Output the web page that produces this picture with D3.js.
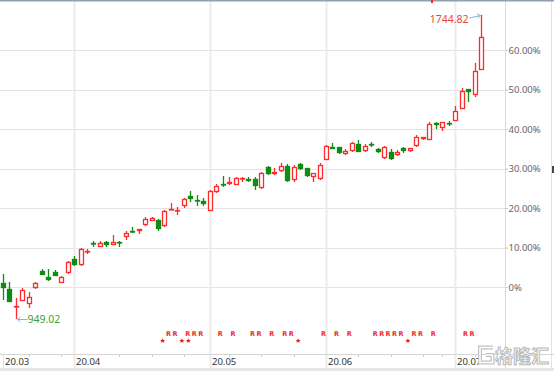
<!DOCTYPE html>
<html>
<head>
<meta charset="utf-8">
<script src="https://cdn.jsdelivr.net/npm/d3@7"></script>
<style>
body { margin: 0; background: #fff; }
svg { display: block; }
</style>
</head>
<body>
<div id="chart"></div>
<script>
// trading days shown on the chart
const dates = [
  "2020-03-17","2020-03-18","2020-03-19","2020-03-20","2020-03-23","2020-03-24","2020-03-25","2020-03-26","2020-03-27","2020-03-30","2020-03-31",
  "2020-04-01","2020-04-02","2020-04-03","2020-04-07","2020-04-08","2020-04-09","2020-04-10","2020-04-13","2020-04-14","2020-04-15","2020-04-16","2020-04-17","2020-04-20","2020-04-21","2020-04-22","2020-04-23","2020-04-24","2020-04-27","2020-04-28","2020-04-29","2020-04-30",
  "2020-05-06","2020-05-07","2020-05-08","2020-05-11","2020-05-12","2020-05-13","2020-05-14","2020-05-15","2020-05-18","2020-05-19","2020-05-20","2020-05-21","2020-05-22","2020-05-25","2020-05-26","2020-05-27","2020-05-28","2020-05-29",
  "2020-06-01","2020-06-02","2020-06-03","2020-06-04","2020-06-05","2020-06-08","2020-06-09","2020-06-10","2020-06-11","2020-06-12","2020-06-15","2020-06-16","2020-06-17","2020-06-18","2020-06-19","2020-06-22","2020-06-23","2020-06-24","2020-06-29","2020-06-30",
  "2020-07-01","2020-07-02","2020-07-03","2020-07-06","2020-07-07"
];
const openPrices = [
  1044,1028,981,997,988,1030,1076,1060,1073,1045,1069,
  1105,1090,1124,1149,1138,1151,1143,1151,1162,1179,1180,1195,1206,1208,1192,1236,1233,1243,1271,1261,1257,
  1234,1282,1302,1302,1302,1316,1315,1315,1291,1348,1330,1337,1350,1313,1354,1343,1320,1315,
  1365,1400,1398,1380,1389,1407,1389,1408,1394,1370,1385,1378,1397,1389,1402,1420,1417,1463,1448,1462,
  1468,1498,1551,1535,1603
];
const highPrices = [
  1067,1047,1003,1030,1021,1046,1079,1079,1077,1062,1102,
  1115,1134,1132,1153,1152,1153,1169,1154,1179,1191,1185,1216,1215,1210,1234,1253,1243,1265,1284,1274,1266,
  1287,1302,1324,1320,1321,1321,1320,1320,1334,1350,1343,1356,1354,1352,1356,1345,1332,1356,
  1404,1410,1400,1393,1413,1417,1407,1413,1397,1402,1393,1391,1400,1397,1430,1426,1465,1465,1465,1467,
  1506,1553,1551,1618,1744.82
];
const lowPrices = [
  999,994,949.02,996,977,1028,1064,1049,1062,1044,1067,
  1088,1089,1119,1138,1137,1137,1142,1137,1156,1174,1172,1192,1205,1180,1190,1234,1221,1240,1256,1245,1245,
  1232,1280,1295,1299,1301,1308,1308,1287,1289,1326,1326,1334,1308,1307,1339,1320,1308,1314,
  1364,1393,1381,1378,1387,1385,1387,1400,1383,1367,1365,1376,1383,1387,1400,1417,1417,1446,1441,1455,
  1466,1498,1518,1531,1603
];
const closePrices = [
  1032,995,983,1025,1006,1044,1066,1051,1063,1060,1099,
  1090,1132,1126,1147,1148,1143,1151,1149,1173,1177,1184,1211,1213,1184,1232,1238,1235,1262,1262,1259,1250,
  1285,1297,1299,1308,1319,1318,1310,1297,1330,1330,1334,1350,1310,1348,1342,1321,1330,1352,
  1402,1395,1383,1389,1409,1387,1402,1406,1385,1400,1367,1387,1389,1396,1426,1424,1458,1458,1464,1460,
  1493,1545,1544,1599,1688
];
const basePrice = 1033;   // price at 0%
const pctTicks = [0, 0.1, 0.2, 0.3, 0.4, 0.5, 0.6];
const rDates = ["2020-04-22","2020-04-23","2020-04-27","2020-04-28","2020-04-29","2020-05-07","2020-05-11","2020-05-14","2020-05-15","2020-05-19","2020-05-21","2020-05-22","2020-05-29","2020-06-02","2020-06-04","2020-06-10","2020-06-11","2020-06-12","2020-06-15","2020-06-16","2020-06-18","2020-06-19","2020-06-23","2020-07-02","2020-07-03"];
const starDates = ["2020-04-21","2020-04-24","2020-04-27","2020-05-25","2020-06-17"];

const width = 554, height = 371;
const plotRight = 505, axisTop = 354;
const upColor = "#ff2b2b", downColor = "#108c14";
const font = "'Noto Sans', sans-serif";

const parse = d3.timeParse("%Y-%m-%d");
const data = dates.map((d, i) => ({
  date: d, open: openPrices[i], high: highPrices[i], low: lowPrices[i], close: closePrices[i]
}));

const svg = d3.select("#chart").append("svg")
  .attr("width", width)
  .attr("height", height);

const x = d3.scalePoint().domain(dates).range([3, 481]);
const y = d3.scaleLinear().domain([basePrice, basePrice * 1.6]).range([287, 50]);
const pct = d3.scaleLinear().domain([0, 0.6]).range([287, 50]);
const px = d => Math.round(x(d)) + 0.5;

// month starts and mondays for the date axis
const monthStarts = dates.filter((d, i) => i === 0 || d.slice(5, 7) !== dates[i - 1].slice(5, 7));
const mondays = dates.filter(d => parse(d).getDay() === 1 && monthStarts.indexOf(d) < 0);

// horizontal grid
svg.append("g").selectAll("line")
  .data(pctTicks)
  .enter().append("line")
    .attr("x1", 0).attr("x2", plotRight + 3)
    .attr("y1", d => Math.round(pct(d)) + 0.5)
    .attr("y2", d => Math.round(pct(d)) + 0.5)
    .attr("stroke", "#e3e3e3");

// vertical month grid
svg.append("g").selectAll("line")
  .data(monthStarts.slice(1))
  .enter().append("line")
    .attr("x1", d => px(d)).attr("x2", d => px(d))
    .attr("y1", 0).attr("y2", 368)
    .attr("stroke", "#ececec")
    .attr("stroke-width", 2);

// right axis line and edge
svg.append("line")
  .attr("x1", plotRight + 0.5).attr("x2", plotRight + 0.5)
  .attr("y1", 0).attr("y2", 368)
  .attr("stroke", "#dadada");
svg.append("line")
  .attr("x1", 551.5).attr("x2", 551.5)
  .attr("y1", 0).attr("y2", 368)
  .attr("stroke", "#e2e2e2");
svg.append("rect")
  .attr("x", 552).attr("y", 166).attr("width", 2).attr("height", 7)
  .attr("fill", "#444");

// percent axis
const pctAxis = svg.append("g")
  .attr("transform", "translate(" + plotRight + ",0)")
  .call(d3.axisRight(pct)
    .tickValues(pctTicks)
    .tickSize(3)
    .tickFormat(d => d === 0 ? "0%" : d3.format(".2%")(d)));
pctAxis.select(".domain").remove();
pctAxis.selectAll(".tick line").attr("stroke", "#cfcfcf");
pctAxis.selectAll(".tick text")
  .attr("x", 3.5)
  .attr("fill", "#666")
  .style("font-family", font)
  .style("font-size", "9.5px");

// date axis band
svg.append("line")
  .attr("x1", 0).attr("x2", width)
  .attr("y1", axisTop + 0.5).attr("y2", axisTop + 0.5)
  .attr("stroke", "#d4d4d4");
svg.append("line")
  .attr("x1", px(dates[0])).attr("x2", px(dates[0]))
  .attr("y1", axisTop).attr("y2", 368)
  .attr("stroke", "#e2e2e2");
svg.append("g").selectAll("line")
  .data(mondays)
  .enter().append("line")
    .attr("x1", d => px(d)).attr("x2", d => px(d))
    .attr("y1", axisTop).attr("y2", axisTop + 3)
    .attr("stroke", "#d0d0d0");
svg.append("g").selectAll("text")
  .data(monthStarts)
  .enter().append("text")
    .attr("x", d => Math.round(x(d)) + 2)
    .attr("y", 365)
    .attr("fill", "#333")
    .style("font-family", font)
    .style("font-size", "9.5px")
    .text(d => d3.timeFormat("%y.%m")(parse(d)));
svg.append("rect")
  .attr("x", 0).attr("y", 368).attr("width", width).attr("height", 3)
  .attr("fill", "#e6e6e6");

// top border
svg.append("rect")
  .attr("x", 0).attr("y", 0).attr("width", width).attr("height", 1.5)
  .attr("fill", "#8fa1b0");
svg.append("rect")
  .attr("x", 431).attr("y", 0).attr("width", 2).attr("height", 3)
  .attr("fill", upColor);

// candles
const candles = svg.append("g").selectAll("g")
  .data(data)
  .enter().append("g");
candles.append("line")
  .attr("x1", d => px(d.date)).attr("x2", d => px(d.date))
  .attr("y1", d => Math.round(y(d.high))).attr("y2", d => Math.round(y(d.low)))
  .attr("stroke", d => d.close >= d.open ? upColor : downColor)
  .attr("stroke-width", 1.3);
candles.append("rect")
  .attr("x", d => px(d.date) - 2)
  .attr("y", d => Math.round(y(Math.max(d.open, d.close))) + 0.5)
  .attr("width", 4)
  .attr("height", d => Math.max(0.5, Math.round(Math.abs(y(d.open) - y(d.close))) - 1))
  .attr("fill", d => d.close >= d.open ? "#fff" : downColor)
  .attr("stroke", d => d.close >= d.open ? upColor : downColor)
  .attr("stroke-width", 1.3);

// min / max labels
const lowIdx = d3.minIndex(data, d => d.low);
const highIdx = d3.maxIndex(data, d => d.high);
const lx = px(data[lowIdx].date), ly = Math.round(y(data[lowIdx].low)) + 0.5;
const hx = px(data[highIdx].date), hy = Math.round(y(data[highIdx].high)) + 0.5;
svg.append("path")
  .attr("d", "M" + (lx + 11) + "," + ly + "H" + (lx + 1) + "M" + (lx + 4) + "," + (ly - 2.5) + "L" + (lx + 1) + "," + ly + "L" + (lx + 4) + "," + (ly + 2.5))
  .attr("fill", "none")
  .attr("stroke", "#84b6d8");
svg.append("text")
  .attr("x", lx + 11)
  .attr("y", ly + 3.8)
  .attr("fill", "#3a9e3a")
  .style("font-family", font)
  .style("font-size", "10.5px")
  .text(d3.format(".2f")(data[lowIdx].low));
svg.append("path")
  .attr("d", "M" + (hx - 12) + "," + (hy + 2.5) + "L" + (hx - 1) + "," + hy + "M" + (hx - 4.5) + "," + (hy - 1.5) + "L" + (hx - 1) + "," + hy + "L" + (hx - 4) + "," + (hy + 2.5))
  .attr("fill", "none")
  .attr("stroke", "#84b6d8");
svg.append("text")
  .attr("x", hx - 13)
  .attr("y", hy + 7.5)
  .attr("text-anchor", "end")
  .attr("fill", "#e8453c")
  .style("font-family", font)
  .style("font-size", "10.5px")
  .text(d3.format(".2f")(data[highIdx].high));

// R and star markers
svg.append("g").selectAll("text")
  .data(rDates)
  .enter().append("text")
    .attr("x", d => x(d) + 4)
    .attr("y", 336)
    .attr("text-anchor", "middle")
    .attr("fill", "#ee2c2c")
    .style("font-family", "'DejaVu Sans', sans-serif")
    .style("font-size", "6.5px")
    .style("font-weight", "bold")
    .text("R");
svg.append("g").selectAll("text")
  .data(starDates)
  .enter().append("text")
    .attr("x", d => x(d) + 4.5)
    .attr("y", 342.5)
    .attr("text-anchor", "middle")
    .attr("fill", "#e01515")
    .style("font-family", "'DejaVu Sans', sans-serif")
    .style("font-size", "7px")
    .text("\u2605");

// watermark
const mark = svg.append("g");
mark.append("path")
  .attr("d", "M493,347.5H480V362.5H492.5V355H486")
  .attr("fill", "none")
  .attr("stroke", "#c2c2c2")
  .attr("stroke-width", 4);
mark.append("path")
  .attr("d", "M493,347.5H480V362.5H492.5V355H486")
  .attr("fill", "none")
  .attr("stroke", "#fff")
  .attr("stroke-width", 1.5);
mark.append("text")
  .attr("x", 495)
  .attr("y", 363)
  .attr("fill", "#fff")
  .attr("stroke", "#bababa")
  .attr("stroke-width", 1)
  .style("font-family", "'Noto Sans CJK SC', sans-serif")
  .style("font-size", "18px")
  .style("font-weight", "bold")
  .text("格隆汇");
</script>
</body>
</html>
